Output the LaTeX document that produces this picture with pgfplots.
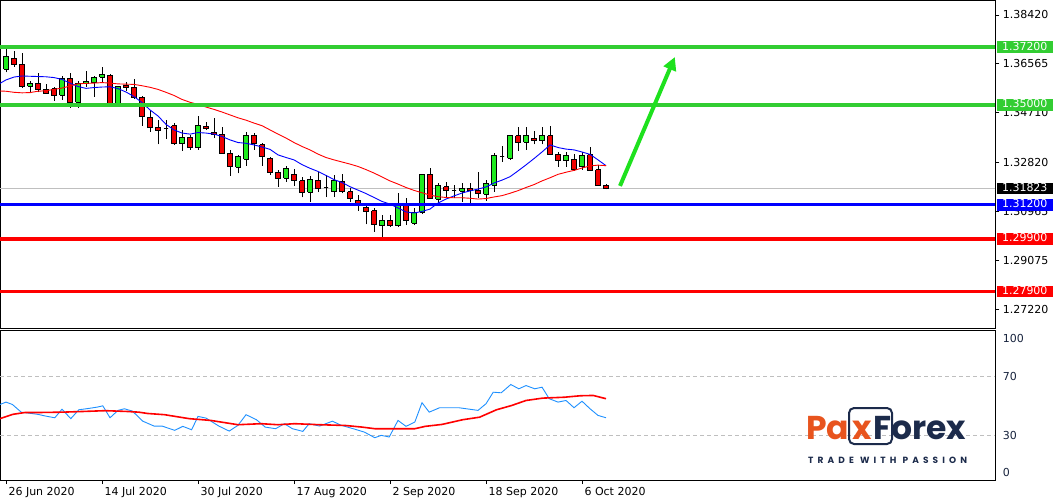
\documentclass[border=0pt]{standalone}
\usepackage{pgfplots}
\pgfplotsset{compat=1.18}
\usepackage{pgfplotstable}
\usepackage{fontspec}
\setmainfont{DejaVu Sans}
\newfontfamily\logofont{Poppins}
\usetikzlibrary{arrows.meta}

\definecolor{upfill}{RGB}{30,235,30}
\definecolor{downfill}{RGB}{240,0,0}
\definecolor{lvgreen}{RGB}{50,205,50}
\definecolor{lvblue}{RGB}{0,0,255}
\definecolor{lvred}{RGB}{255,0,0}
\definecolor{arrowgreen}{RGB}{30,225,30}
\definecolor{rsiblue}{RGB}{30,144,255}
\definecolor{pxorange}{RGB}{232,84,30}
\definecolor{pxnavy}{RGB}{28,43,75}

% daily candles, bar index 0 = 26 Jun 2020
\pgfplotstableread{
i o h l c
0 1.3635 1.3715 1.3624 1.3686
1 1.3677 1.3705 1.3645 1.3654
2 1.3654 1.3696 1.3565 1.3571
3 1.3571 1.3591 1.3544 1.3582
4 1.3582 1.3620 1.3548 1.3558
5 1.3559 1.3578 1.3542 1.3544
6 1.3561 1.3569 1.3516 1.3535
7 1.3537 1.3610 1.3519 1.3599
8 1.3601 1.3623 1.3489 1.3510
9 1.3510 1.3592 1.3489 1.3582
10 1.3581 1.3629 1.3569 1.3590
11 1.3585 1.3610 1.3531 1.3606
12 1.3605 1.3644 1.3588 1.3614
13 1.3613 1.3616 1.3502 1.3506
14 1.3506 1.3572 1.3504 1.3569
15 1.3575 1.3586 1.3554 1.3568
16 1.3568 1.3599 1.3524 1.3529
17 1.3530 1.3535 1.3421 1.3455
18 1.3454 1.3481 1.3398 1.3415
19 1.3416 1.3443 1.3350 1.3403
20 1.3410 1.3443 1.3370 1.3410
21 1.3420 1.3430 1.3348 1.3353
22 1.3353 1.3406 1.3326 1.3378
23 1.3378 1.3386 1.3330 1.3339
24 1.3337 1.3458 1.3330 1.3420
25 1.3419 1.3435 1.3405 1.3411
26 1.3397 1.3450 1.3374 1.3389
27 1.3388 1.3417 1.3315 1.3316
28 1.3316 1.3329 1.3231 1.3265
29 1.3263 1.3310 1.3240 1.3303
30 1.3293 1.3398 1.3268 1.3382
31 1.3384 1.3392 1.3329 1.3354
32 1.3348 1.3354 1.3268 1.3303
33 1.3297 1.3301 1.3233 1.3244
34 1.3244 1.3253 1.3189 1.3221
35 1.3221 1.3268 1.3208 1.3257
36 1.3236 1.3255 1.3192 1.3212
37 1.3211 1.3227 1.3148 1.3168
38 1.3168 1.3230 1.3132 1.3217
39 1.3214 1.3244 1.3168 1.3183
40 1.3185 1.3233 1.3149 1.3185
41 1.3170 1.3233 1.3149 1.3212
42 1.3210 1.3236 1.3164 1.3170
43 1.3170 1.3183 1.3130 1.3145
44 1.3138 1.3157 1.3098 1.3126
45 1.3111 1.3126 1.3046 1.3094
46 1.3097 1.3107 1.3018 1.3046
47 1.3040 1.3081 1.2997 1.3062
48 1.3062 1.3081 1.3037 1.3041
49 1.3041 1.3164 1.3037 1.3126
50 1.3126 1.3145 1.3043 1.3061
51 1.3050 1.3107 1.3043 1.3092
52 1.3092 1.3236 1.3085 1.3236
53 1.3236 1.3261 1.3145 1.3145
54 1.3141 1.3204 1.3122 1.3192
55 1.3188 1.3208 1.3151 1.3175
56 1.3175 1.3195 1.3145 1.3175
57 1.3171 1.3202 1.3132 1.3183
58 1.3183 1.3202 1.3122 1.3173
59 1.3176 1.3246 1.3145 1.3162
60 1.3160 1.3214 1.3135 1.3202
61 1.3195 1.3318 1.3170 1.3306
62 1.3303 1.3344 1.3283 1.3303
63 1.3297 1.3386 1.3291 1.3383
64 1.3383 1.3415 1.3325 1.3358
65 1.3358 1.3415 1.3329 1.3383
66 1.3373 1.3402 1.3350 1.3364
67 1.3364 1.3415 1.3350 1.3383
68 1.3383 1.3420 1.3312 1.3312
69 1.3312 1.3322 1.3265 1.3287
70 1.3287 1.3322 1.3265 1.3306
71 1.3294 1.3312 1.3249 1.3256
72 1.3265 1.3322 1.3253 1.3307
73 1.3310 1.3339 1.3249 1.3250
74 1.3253 1.3272 1.3193 1.3195
75 1.3195 1.3199 1.3179 1.3182
}\candles

% fast (blue) and slow (red) moving averages
\pgfplotstableread{
i fast slow
-0.75 1.3582 1.3553
0 1.3595 1.3552
1 1.3606 1.3548
2 1.3610 1.3546
3 1.3609 1.3547
4 1.3608 1.3552
5 1.3607 1.3554
6 1.3604 1.3559
7 1.3597 1.3564
8 1.3583 1.3572
9 1.3570 1.3580
10 1.3563 1.3582
11 1.3566 1.3583
12 1.3568 1.3585
13 1.3569 1.3583
14 1.3562 1.3580
15 1.3549 1.3579
16 1.3532 1.3578
17 1.3509 1.3573
18 1.3481 1.3567
19 1.3458 1.3559
20 1.3426 1.3548
21 1.3405 1.3536
22 1.3393 1.3521
23 1.3389 1.3510
24 1.3395 1.3502
25 1.3393 1.3492
26 1.3389 1.3483
27 1.3380 1.3473
28 1.3367 1.3462
29 1.3357 1.3451
30 1.3354 1.3442
31 1.3348 1.3431
32 1.3340 1.3421
33 1.3331 1.3405
34 1.3310 1.3389
35 1.3300 1.3374
36 1.3291 1.3357
37 1.3273 1.3342
38 1.3259 1.3329
39 1.3247 1.3313
40 1.3232 1.3300
41 1.3216 1.3291
42 1.3205 1.3283
43 1.3189 1.3275
44 1.3176 1.3266
45 1.3163 1.3254
46 1.3148 1.3241
47 1.3133 1.3226
48 1.3123 1.3211
49 1.3108 1.3199
50 1.3093 1.3186
51 1.3089 1.3175
52 1.3095 1.3166
53 1.3104 1.3157
54 1.3127 1.3151
55 1.3142 1.3148
56 1.3154 1.3147
57 1.3165 1.3147
58 1.3173 1.3145
59 1.3180 1.3142
60 1.3188 1.3144
61 1.3203 1.3150
62 1.3214 1.3155
63 1.3227 1.3164
64 1.3249 1.3174
65 1.3272 1.3186
66 1.3296 1.3197
67 1.3321 1.3211
68 1.3348 1.3223
69 1.3338 1.3236
70 1.3332 1.3244
71 1.3329 1.3251
72 1.3321 1.3260
73 1.3312 1.3268
74 1.3291 1.3271
75 1.3269 1.3269
}\mas

% oscillator and its average
\pgfplotstableread{
i v
-0.75 51.1
0 52.7
0.8 51.1
1.9 45.9
2.9 45.2
4.0 44.4
5.0 43.2
6.1 42.1
7.0 47.9
8.1 41.5
9.1 47.5
10.3 48.4
11.4 49.3
12.1 50.2
13.0 42.1
14.0 47.1
14.8 48.2
15.8 46.6
17.1 39.8
18.5 36.5
19.5 36.5
21.1 33.6
22.1 36.3
23.2 34.0
24.0 43.0
25.0 41.9
26.6 36.5
27.9 33.1
29.0 37.0
30.0 44.2
31.3 40.8
32.4 35.8
33.7 34.7
34.8 38.1
35.8 34.7
37.1 32.9
37.9 38.1
39.2 36.5
40.8 39.8
41.9 37.0
43.4 34.7
44.8 32.4
46.1 28.6
46.9 30.2
47.9 29.1
49.0 40.3
50.0 36.3
51.1 39.2
52.0 52.3
52.9 45.9
54.2 48.9
56.6 48.9
59.0 47.1
60.0 51.6
60.9 59.4
61.9 59.0
63.1 64.6
64.1 61.7
65.0 63.9
66.1 61.7
67.0 62.8
67.9 55.0
69.0 52.7
70.0 53.8
71.0 48.9
72.0 53.3
73.0 48.2
74.0 43.7
75.0 42.1
}\osc

\pgfplotstableread{
i v
-0.75 41.5
0.83 44.4
2.4 45.7
4.5 45.7
7.1 45.9
9.8 46.4
12.4 46.9
15.0 46.4
16.6 45.9
17.7 45.0
19.8 44.2
22.9 41.5
25.6 40.3
29.0 37.4
31.9 38.1
34.0 37.4
36.1 38.1
39.2 37.4
42.4 36.9
44.5 35.8
46.1 34.7
51.1 34.7
52.4 36.3
54.5 37.6
57.1 40.8
59.2 42.5
61.3 47.5
63.2 50.4
65.0 53.8
67.1 55.4
69.8 56.0
71.8 57.0
73.4 57.2
75.0 55.0
}\oscma

\newcommand\lvlbox[2]{{\setlength\fboxsep{0pt}\colorbox{#1}{\rule[-2.8pt]{0pt}{11.5pt}\hspace{5.5pt}\textcolor{white}{#2}\hspace{5.5pt}}}}

\begin{document}
\begin{tikzpicture}
\path[use as bounding box] (0pt,0pt) rectangle (1056pt,-501pt);

% price panel
\begin{axis}[
  at={(0pt,0pt)}, anchor=north west,
  width=995.3pt, height=328.3pt, scale only axis,
  xmin=-0.75, xmax=123.66,
  ymin=1.26505, ymax=1.38990,
  axis line style={black, line width=1pt},
  xtick=\empty,
  ytick={1.27220,1.29075,1.30965,1.32820,1.34710,1.36565,1.38420},
  yticklabels={1.27220,1.29075,1.30965,1.32820,1.34710,1.36565,1.38420},
  ytick pos=right, yticklabel pos=right,
  tick align=outside, major tick length=4pt,
  tick style={black, line width=0.8pt},
  yticklabel style={font=\fontsize{11}{13}\selectfont, text=black, anchor=west},
  extra y ticks={1.372,1.350,1.31823,1.312,1.299,1.279},
  extra y tick labels={\lvlbox{lvgreen}{1.37200},\lvlbox{lvgreen}{1.35000},\lvlbox{black}{1.31823},\lvlbox{lvblue}{1.31200},\lvlbox{lvred}{1.29900},\lvlbox{lvred}{1.27900}},
  extra y tick style={major tick length=0pt, yticklabel style={inner sep=0pt, xshift=1pt}},
]
\addplot[black!25, line width=0.8pt] coordinates {(-0.75,1.31823) (123.66,1.31823)};

\pgfplotstablegetrowsof{\candles}
\pgfmathtruncatemacro\lastrow{\pgfplotsretval-1}
\pgfplotsforeachungrouped \k in {0,...,\lastrow}{%
  \pgfplotstablegetelem{\k}{i}\of\candles\let\ci\pgfplotsretval
  \pgfplotstablegetelem{\k}{o}\of\candles\let\co\pgfplotsretval
  \pgfplotstablegetelem{\k}{h}\of\candles\let\ch\pgfplotsretval
  \pgfplotstablegetelem{\k}{l}\of\candles\let\cl\pgfplotsretval
  \pgfplotstablegetelem{\k}{c}\of\candles\let\cc\pgfplotsretval
  \pgfmathsetmacro\xl{\ci-0.26}%
  \pgfmathsetmacro\xr{\ci+0.26}%
  \pgfmathparse{\cc>=\co}%
  \ifdim\pgfmathresult pt>0.5pt \def\cfill{upfill}\else\def\cfill{downfill}\fi
  \edef\temp{%
    \noexpand\addplot[black, line width=1pt] coordinates {(\ci,\cl) (\ci,\ch)};
    \noexpand\addplot[draw=black, line width=1pt, line join=miter, fill=\cfill] coordinates {(\xl,\co) (\xr,\co) (\xr,\cc) (\xl,\cc) (\xl,\co)};
  }\temp
}

\addplot[lvblue, line width=0.9pt] table[x=i, y=fast] {\mas};
\addplot[lvred, line width=0.9pt] table[x=i, y=slow] {\mas};

\addplot[lvgreen, line width=3.3pt] coordinates {(-0.75,1.372) (123.66,1.372)};
\addplot[lvgreen, line width=3.3pt] coordinates {(-0.75,1.350) (123.66,1.350)};
\addplot[lvblue, line width=3.3pt] coordinates {(-0.75,1.312) (123.66,1.312)};
\addplot[lvred, line width=3.3pt] coordinates {(-0.75,1.299) (123.66,1.299)};
\addplot[lvred, line width=3.3pt] coordinates {(-0.75,1.279) (123.66,1.279)};

\addplot[arrowgreen, line width=4pt, -{Triangle[length=13pt, width=13pt]}] coordinates {(76.75,1.3192) (83.6,1.3682)};
\end{axis}

% oscillator panel
\begin{axis}[
  at={(0pt,-330.7pt)}, anchor=north west,
  width=995.3pt, height=149.3pt, scale only axis,
  xmin=-0.75, xmax=123.66,
  ymin=0, ymax=101,
  axis line style={black, line width=1pt},
  xtick={0,12,24,36,48,60,72},
  xticklabels={26 Jun 2020,14 Jul 2020,30 Jul 2020,17 Aug 2020,2 Sep 2020,18 Sep 2020,6 Oct 2020},
  xtick pos=bottom,
  tick align=outside, major tick length=4pt,
  xtick style={black, line width=0.8pt},
  xticklabel style={font=\fontsize{11}{13}\selectfont, text=black, anchor=north west, xshift=-1pt},
  ytick={4.9,30,70,95.4},
  yticklabels={0,30,70,100},
  ytick pos=right, yticklabel pos=right,
  ytick style={draw=none},
  yticklabel style={font=\fontsize{11}{13}\selectfont, text=pxnavy!80!black, anchor=west},
]
\addplot[black!25, line width=0.8pt, dash pattern=on 4pt off 3pt] coordinates {(-0.75,70) (123.66,70)};
\addplot[black!25, line width=0.8pt, dash pattern=on 4pt off 3pt] coordinates {(-0.75,30) (123.66,30)};
\addplot[rsiblue, line width=0.9pt] table[x=i, y=v] {\osc};
\addplot[lvred, line width=1.6pt] table[x=i, y=v] {\oscma};
\end{axis}

% logo
\draw[pxnavy, line width=2pt, rounded corners=5pt] (849pt,-408pt) rectangle (892pt,-444pt);
\node[anchor=base west, inner sep=0pt, text=pxorange] at (806pt,-439pt) {\logofont\bfseries\fontsize{33}{33}\selectfont Pa};
\node[anchor=base west, inner sep=0pt, text=pxorange] at (852pt,-439pt) {\logofont\bfseries\fontsize{33}{33}\selectfont x};
\node[anchor=base west, inner sep=0pt, text=pxnavy] at (873pt,-439pt) {\logofont\bfseries\fontsize{33}{33}\selectfont Forex};
\node[anchor=base west, inner sep=0pt, text=pxnavy] at (808pt,-463pt) {\logofont\bfseries\fontsize{9}{9}\selectfont\addfontfeature{LetterSpace=46}TRADE WITH PASSION};
\end{tikzpicture}
\end{document}
